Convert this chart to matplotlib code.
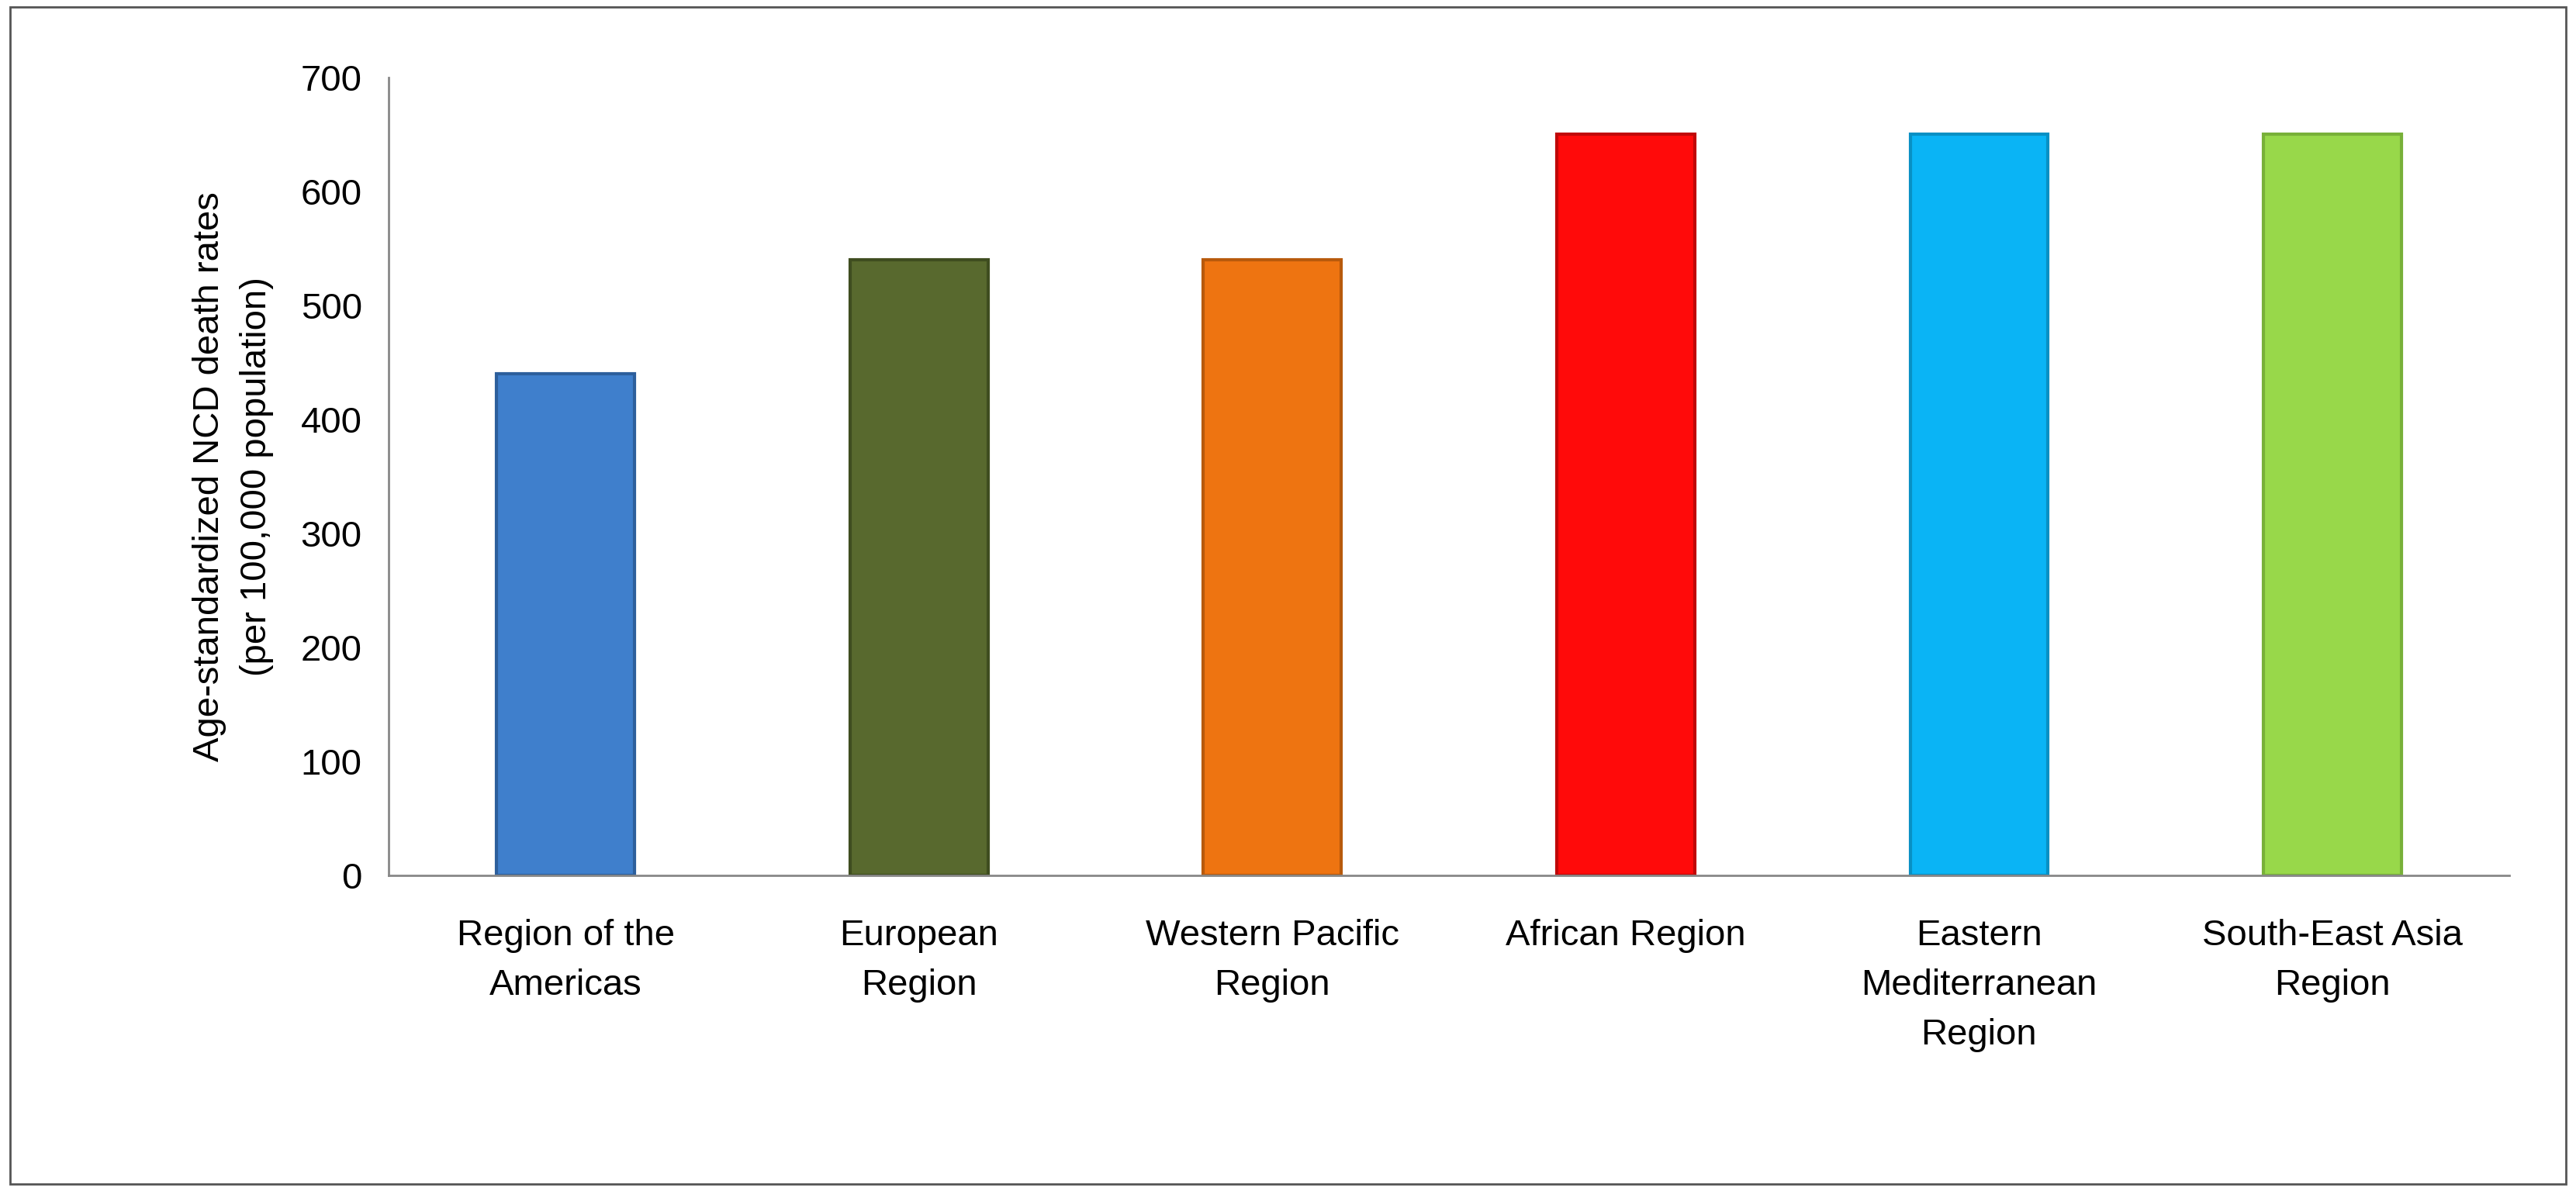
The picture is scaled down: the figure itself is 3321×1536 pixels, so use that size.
import matplotlib
matplotlib.use("Agg")
import matplotlib.pyplot as plt
from matplotlib.patches import Rectangle

categories = ["Region of the\nAmericas", "European\nRegion", "Western Pacific\nRegion",
              "African Region", "Eastern\nMediterranean\nRegion", "South-East Asia\nRegion"]
values = [440, 540, 540, 650, 650, 650]
colors = ["#3f7fcc", "#58692e", "#ee7411", "#ff0a0a", "#0ab4f5", "#98d84a"]
edges = ["#2d5f9c", "#3f4d20", "#b85a0c", "#c00808", "#0890c4", "#78b038"]

plt.rcParams['font.family'] = ['Liberation Sans', 'DejaVu Sans']
fig = plt.figure(figsize=(33.21, 15.36), dpi=100)
fig.patches.append(Rectangle((0.004, 0.006), 0.992, 0.988, transform=fig.transFigure,
                             fill=False, edgecolor="#555555", linewidth=2))
ax = fig.add_axes([0.151, 0.265, 0.823, 0.67])
x = range(len(categories))
ax.bar(x, values, width=0.39, color=colors, edgecolor=edges, linewidth=3)
ax.set_xlim(-0.5, len(categories) - 0.5)
ax.set_ylim(0, 700)
ax.set_yticks(range(0, 701, 100))
ax.set_xticks(list(x))
ax.set_xticklabels(categories, fontsize=34, linespacing=1.6)
ax.tick_params(axis='y', labelsize=34, length=0, pad=25)
ax.tick_params(axis='x', length=0, pad=40)
for s in ["top", "right"]:
    ax.spines[s].set_visible(False)
for s in ["left", "bottom"]:
    ax.spines[s].set_color("#888888")
    ax.spines[s].set_linewidth(2)
ax.set_ylabel("Age-standardized NCD death rates\n(per 100,000 population)", fontsize=34,
              linespacing=1.5, labelpad=25)
fig.savefig("out.png", dpi=100)
